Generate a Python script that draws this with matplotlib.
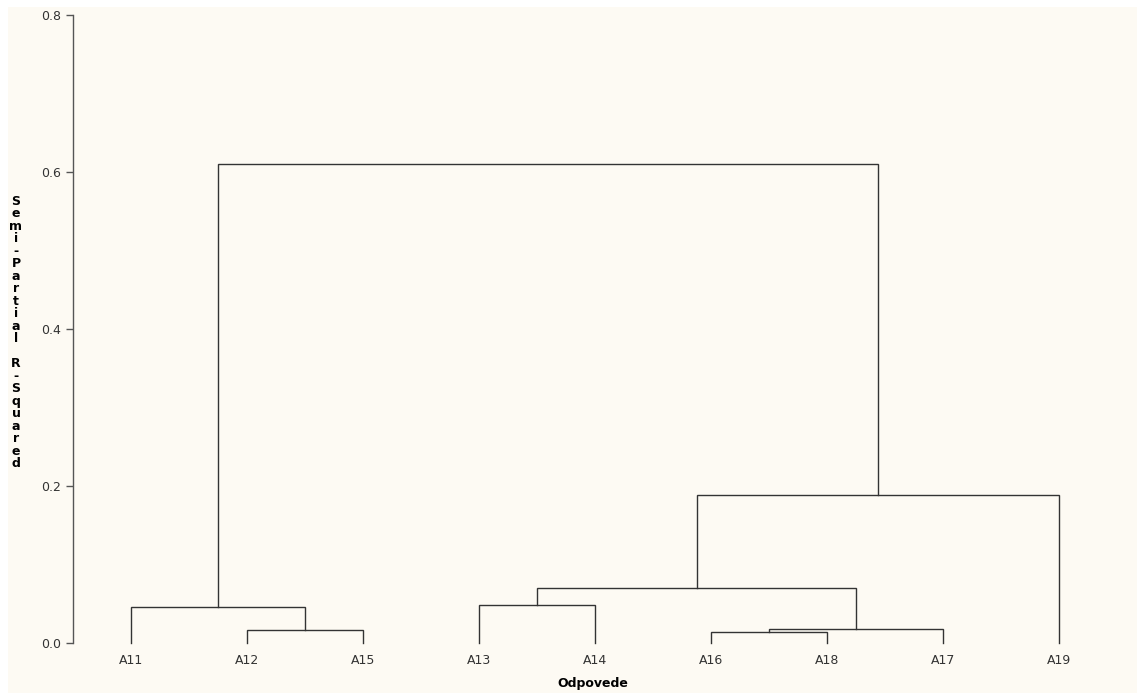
import matplotlib
matplotlib.use("Agg")
from matplotlib import pyplot as plt
from matplotlib.patches import Rectangle

# leaves in drawing order
labels = ['A11', 'A12', 'A15', 'A13', 'A14', 'A16', 'A18', 'A17', 'A19']

# merges: node ids 0..8 are leaves, new clusters get 9, 10, ...
merge_left = [1, 5, 10, 3, 0, 12, 14, 13]
merge_right = [2, 6, 7, 4, 9, 11, 8, 15]
merge_height = [0.016, 0.014, 0.018, 0.048, 0.045, 0.070, 0.188, 0.610]

line_col = '#333333'
text_col = '#333333'
plt.rcParams['font.family'] = ['DejaVu Sans']

fig = plt.figure(figsize=(11.37, 6.93), dpi=100)
fig.patch.set_facecolor('white')
fig.patches.append(Rectangle((8 / 1137, 0), 1, 1 - 7 / 693, transform=fig.transFigure,
                             facecolor='#FDFAF3', edgecolor='none', zorder=-10))

ax = fig.add_axes([73.3 / 1137, 1 - 642.7 / 693, (1117 - 73.3) / 1137, (642.7 - 15) / 693])
ax.set_facecolor('none')

# x / height for every node
xs = list(range(len(labels)))
hs = [0.0] * len(labels)
for l, r, h in zip(merge_left, merge_right, merge_height):
    ax.plot([xs[l], xs[l], xs[r], xs[r]], [hs[l], h, h, hs[r]], color=line_col, lw=1.0,
            solid_joinstyle='miter', clip_on=False)
    xs.append((xs[l] + xs[r]) / 2)
    hs.append(h)

ax.set_xlim(-0.5, len(labels) - 0.5)
ax.set_ylim(0, 0.8)
ax.set_yticks([0.0, 0.2, 0.4, 0.6, 0.8])
ax.set_yticklabels(['0.0', '0.2', '0.4', '0.6', '0.8'])
ax.set_xticks(range(len(labels)))
ax.set_xticklabels(labels)
ax.tick_params(axis='x', length=0, pad=8, labelsize=9, labelcolor=text_col)
ax.tick_params(axis='y', length=5, width=1, color='#555555', pad=4, labelsize=9,
               labelcolor=text_col, direction='out')
for s in ['top', 'right', 'bottom']:
    ax.spines[s].set_visible(False)
ax.spines['left'].set_color('#555555')
ax.spines['left'].set_linewidth(1.0)

fig.text(593 / 1137, 1 - 684 / 693, 'Odpovede', ha='center', va='center',
         fontsize=9, fontweight='bold', color='black')
ylab = 'Semi-Partial R-Squared'
fig.text(16 / 1137, 1 - 332.5 / 693, '\n'.join(ylab), ha='center', va='center',
         fontsize=9, fontweight='bold', color='black', linespacing=0.95)

plt.savefig('out.png', dpi=100)
